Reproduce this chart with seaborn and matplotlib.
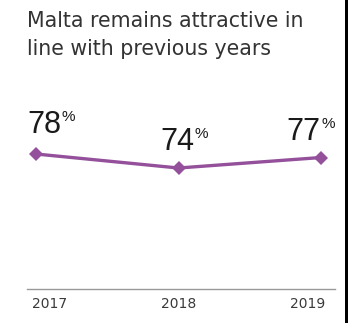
import matplotlib
matplotlib.use("Agg")
import matplotlib.pyplot as plt
import seaborn as sns
import pandas as pd
from matplotlib.patches import Rectangle
from matplotlib.transforms import offset_copy

years = [2017, 2018, 2019]
values = [78, 74, 77]
year_labels = ["2017", "2018", "2019"]
title_lines = ["Malta remains attractive in", "line with previous years"]

sns.set_theme(style="white")
plt.rcParams['font.family'] = ['DejaVu Sans']

W, H = 348, 323
fig = plt.figure(figsize=(W / 100, H / 100), dpi=100)
fig.patch.set_facecolor("white")
ax = fig.add_axes([27 / W, (H - 289) / H, (335 - 27) / W, (289 - 100) / H])

df = pd.DataFrame({"year": years, "value": values})
purple = "#94509B"
sns.lineplot(data=df, x="year", y="value", ax=ax, color=purple, linewidth=2.4,
             marker="D", markersize=7, markeredgewidth=0, markerfacecolor=purple)

ax.set_xlim(2017 - 9 / 142.5, 2019 + 14 / 142.5)
ax.set_ylim(39.43, 39.43 + 189 / 3.5)
ax.set_xlabel("")
ax.set_ylabel("")
ax.set_yticks([])
ax.set_xticks(years)
ax.set_xticklabels(year_labels, fontsize=10, color="#3a3a3a")
tls = ax.get_xticklabels()
tls[0].set_ha("left")
tls[-1].set_ha("right")
ax.tick_params(axis="x", length=0, pad=6)
for lab in tls:
    pass
for s in ["top", "left", "right"]:
    ax.spines[s].set_visible(False)
ax.spines["bottom"].set_color("#999999")
ax.spines["bottom"].set_linewidth(1)
ax.set_facecolor("white")

# shift first/last tick labels slightly
import matplotlib.transforms as mtrans
tls[0].set_transform(tls[0].get_transform() + mtrans.ScaledTranslation(-4 / 100, 0, fig.dpi_scale_trans))
tls[-1].set_transform(tls[-1].get_transform() + mtrans.ScaledTranslation(4 / 100, 0, fig.dpi_scale_trans))

# value labels: (dx px, dy px above point, ha)
placements = [(-9, 21, "left"), (-1.5, 18, "center"), (-1, 18, "right")]
fig.canvas.draw()
renderer = fig.canvas.get_renderer()
for x, v, (dx, dy, ha) in zip(years, values, placements):
    tr = offset_copy(ax.transData, fig=fig, x=dx * 0.72, y=dy * 0.72, units="points")
    t = ax.text(x, v, str(v), transform=tr, ha=ha, va="baseline", fontsize=22,
                color="#1a1a1a", family="Liberation Sans")
    bb = t.get_window_extent(renderer=renderer)
    fig.text((bb.x1 + 1) / W, bb.y1 / H, "%", ha="left", va="top", fontsize=11,
             color="#1a1a1a", family="Liberation Sans")

fig.text(27 / W, 1 - 27 / H, title_lines[0], ha="left", va="baseline", fontsize=14.8,
         color="#333333")
fig.text(27 / W, 1 - 55 / H, title_lines[1], ha="left", va="baseline", fontsize=14.8,
         color="#333333")

fig.patches.append(Rectangle((345 / W, 0), 3 / W, 1, transform=fig.transFigure,
                             facecolor="black", edgecolor="none"))

fig.savefig("out.png", dpi=100, facecolor="white")
